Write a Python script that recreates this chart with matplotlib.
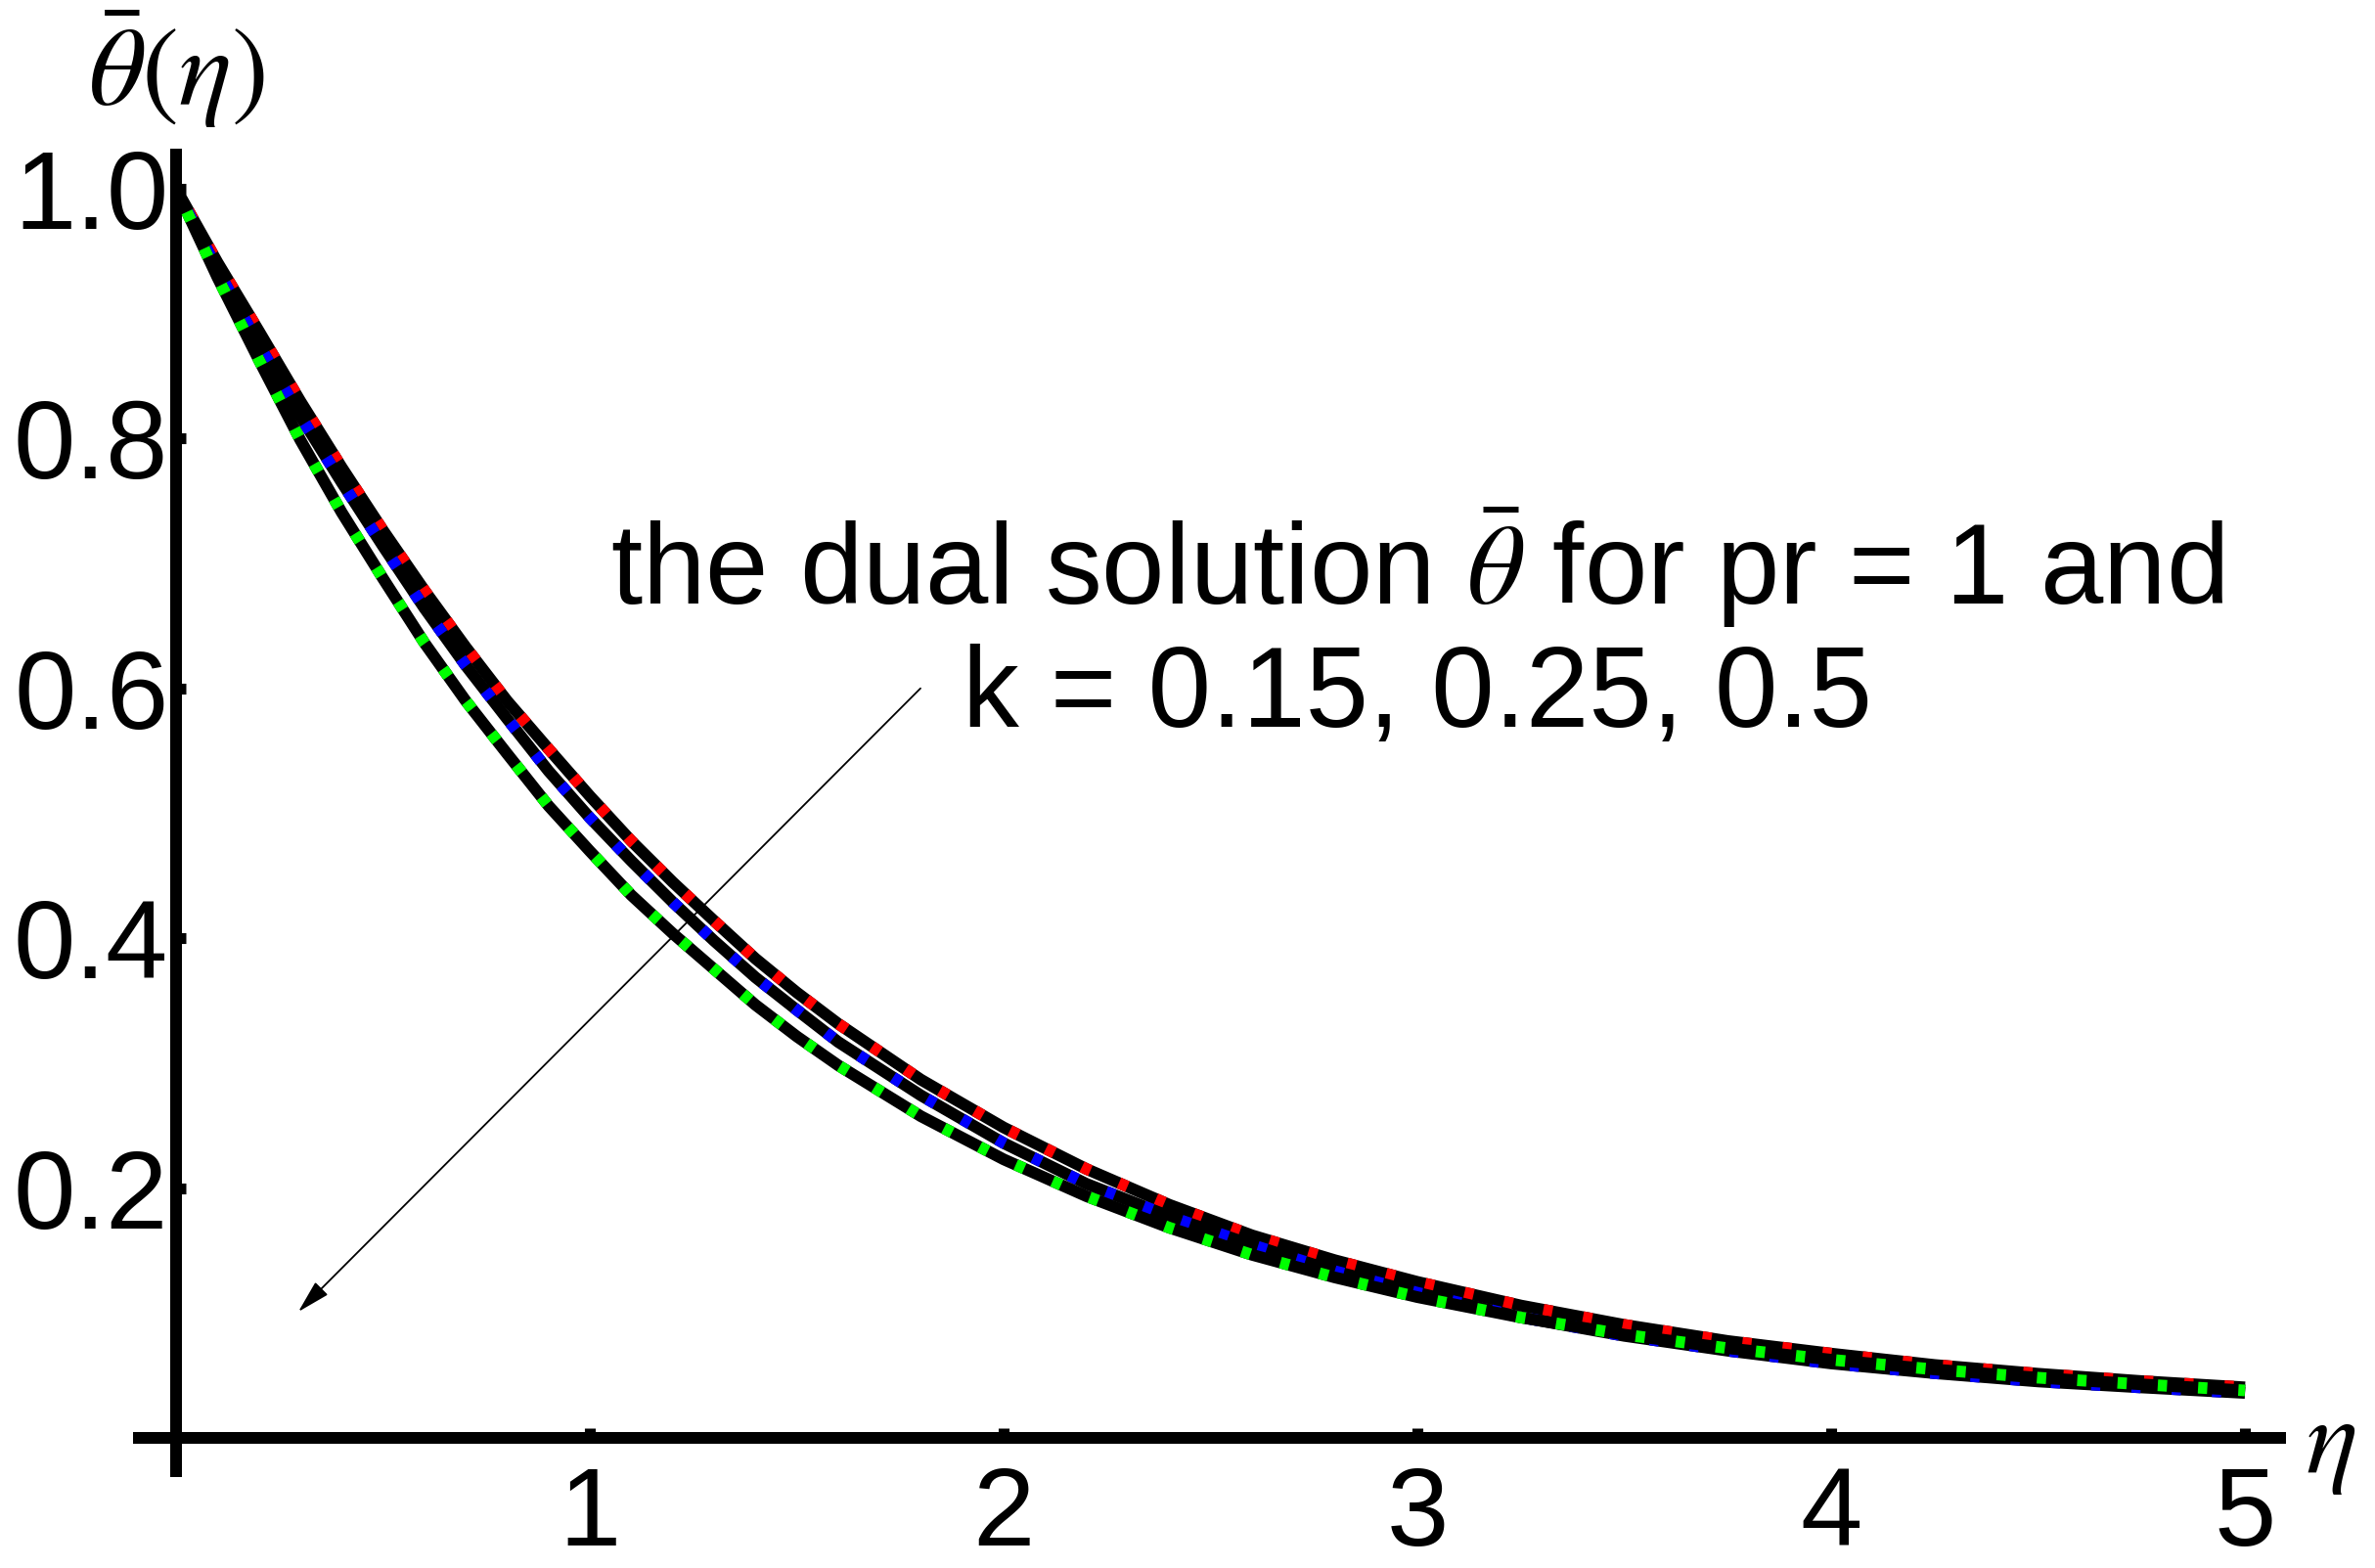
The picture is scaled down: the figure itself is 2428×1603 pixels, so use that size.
import matplotlib
matplotlib.use("Agg")
import matplotlib.pyplot as plt
from matplotlib.patches import FancyArrowPatch

plt.rcParams['font.family'] = ['Liberation Sans', 'DejaVu Sans']
plt.rcParams['mathtext.fontset'] = 'stix'
plt.rcParams['lines.scale_dashes'] = False

# ---- data ----
eta = [0.0, 0.1, 0.2, 0.3, 0.4, 0.5, 0.6, 0.7, 0.8, 0.9, 1.0, 1.1, 1.2, 1.3, 1.4,
       1.5, 1.6, 1.8, 2.0, 2.2, 2.4, 2.6, 2.8, 3.0, 3.25, 3.5, 3.75, 4.0, 4.25,
       4.5, 4.75, 5.0]

theta_red = [1.0, 0.941, 0.886, 0.830, 0.777, 0.7265, 0.6785, 0.633, 0.590, 0.5516,
             0.5138, 0.4779, 0.445, 0.414, 0.3837, 0.3566, 0.3316, 0.2868, 0.2485,
             0.2153, 0.1867, 0.1622, 0.1423, 0.1249, 0.1060, 0.0905, 0.0776, 0.0675,
             0.0584, 0.0514, 0.0455, 0.0405]

theta_blue = [1.0, 0.935, 0.875, 0.818, 0.765, 0.7139, 0.6643, 0.6183, 0.5757, 0.5339,
              0.4964, 0.4619, 0.4290, 0.398, 0.3687, 0.3426, 0.317, 0.2742, 0.236,
              0.2034, 0.1774, 0.1545, 0.1335, 0.1162, 0.0966, 0.0817, 0.0698, 0.0596,
              0.0518, 0.0452, 0.0404, 0.036]

theta_green = [1.0, 0.929, 0.863, 0.799, 0.741, 0.688, 0.6365, 0.590, 0.5477, 0.506,
               0.4697, 0.4345, 0.4039, 0.3753, 0.3467, 0.3214, 0.2983, 0.2575, 0.223,
               0.1935, 0.1683, 0.1466, 0.1285, 0.1127, 0.0964, 0.0827, 0.0718, 0.0626,
               0.0548, 0.0482, 0.0429, 0.038]

series = [(theta_red, '#ff0000'), (theta_blue, '#0000ff'), (theta_green, '#00ff00')]

xticks = [1, 2, 3, 4, 5]
xticklabels = ['1', '2', '3', '4', '5']
yticks = [0.2, 0.4, 0.6, 0.8, 1.0]
yticklabels = ['0.2', '0.4', '0.6', '0.8', '1.0']

# ---- figure ----
W, H = 2428, 1603
fig = plt.figure(figsize=(W / 100, H / 100), dpi=100)
ax = fig.add_axes([136 / W, 1 - 1510 / H, (2337 - 136) / W, (1510 - 152) / H])
ax.set_xlim(-0.104, 5.099)
ax.set_ylim(-0.0313, 1.032)

lw = 8.6
z = 3
for vals, col in series:
    ax.plot(eta, vals, color='black', lw=lw, solid_capstyle='butt',
            solid_joinstyle='round', zorder=z)
    ax.plot(eta, vals, color=col, lw=lw, linestyle=(10.8, (6.8, 22.9)),
            dash_capstyle='butt', zorder=z + 0.5)
    z += 1

for s in ['top', 'right']:
    ax.spines[s].set_visible(False)
ax.spines['left'].set_position(('data', 0))
ax.spines['bottom'].set_position(('data', 0))
for s in ['left', 'bottom']:
    ax.spines[s].set_linewidth(8.64)
    ax.spines[s].set_capstyle('butt')
    ax.spines[s].set_zorder(2)

ax.set_xticks(xticks)
ax.set_xticklabels(xticklabels)
ax.set_yticks(yticks)
ax.set_yticklabels(yticklabels)
ax.tick_params(axis='both', direction='in', length=7.5, width=8, labelsize=82)
ax.tick_params(axis='x', pad=20.5)
ax.tick_params(axis='y', pad=5.5)

# axis labels
fig.text(90 / W, 1 - 108 / H, r'$\bar{\theta}(\eta)$', fontsize=82,
         ha='left', va='baseline')
fig.text(2357 / W, 1 - 1505 / H, r'$\eta$', fontsize=80, ha='left', va='baseline')

# annotation
ax.text(3.0, 0.667, r'the dual solution $\bar{\theta}$ for pr = 1 and', fontsize=83.3,
        ha='center', va='baseline')
ax.text(3.0, 0.569, 'k = 0.15, 0.25, 0.5', fontsize=83.3, ha='center', va='baseline')

arrow = FancyArrowPatch((1.799, 0.600), (0.2955, 0.101),
                        arrowstyle='-|>,head_length=1.05,head_width=0.28',
                        mutation_scale=20, lw=1.3, color='black',
                        shrinkA=0, shrinkB=0, zorder=10)
ax.add_patch(arrow)

fig.savefig('out.png', dpi=100, facecolor='white')
